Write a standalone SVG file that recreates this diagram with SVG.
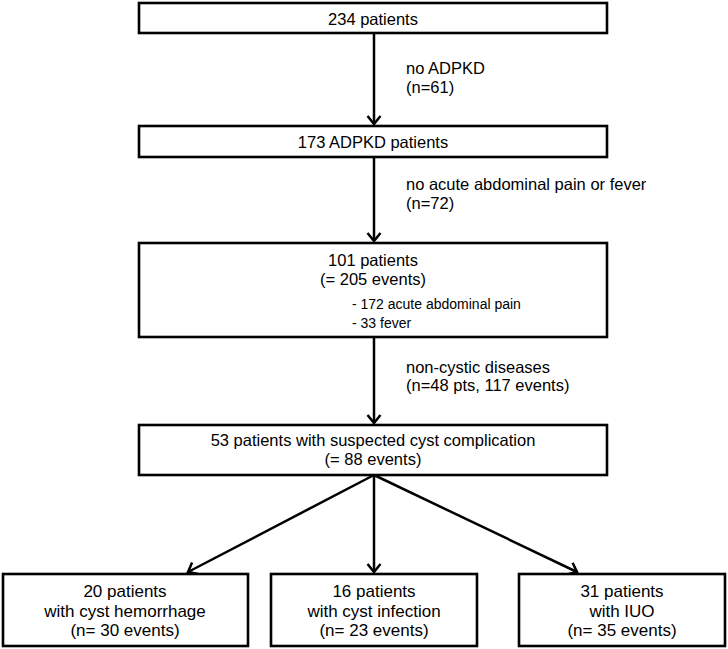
<svg xmlns="http://www.w3.org/2000/svg" width="728" height="649" viewBox="0 0 728 649">
<style>
.box{fill:#fff;stroke:#000;stroke-width:2.6}
.t{font-family:"Liberation Sans",Arial,sans-serif;font-size:16.5px;fill:#000;text-anchor:middle}
.l{font-family:"Liberation Sans",Arial,sans-serif;font-size:16.5px;fill:#000}
.s{font-family:"Liberation Sans",Arial,sans-serif;font-size:14px;fill:#000}
.b{font-family:"Liberation Sans",Arial,sans-serif;font-size:17px;fill:#000;text-anchor:middle}
.c{fill:none;stroke:#000;stroke-width:2.5}
</style>
<defs>
<marker id="ah" markerUnits="userSpaceOnUse" markerWidth="20" markerHeight="20" viewBox="-10 -10 20 20" refX="0" refY="0" orient="auto">
<path d="M-8,-6.5 L0,0 L-8,6.5" fill="none" stroke="#000" stroke-width="2.5"/>
</marker>
</defs>
<g id="connectors">
<line class="c" x1="374" y1="33" x2="374" y2="124" marker-end="url(#ah)"/>
<line class="c" x1="374" y1="157" x2="374" y2="241" marker-end="url(#ah)"/>
<line class="c" x1="374" y1="337" x2="374" y2="423" marker-end="url(#ah)"/>
<line class="c" x1="374" y1="475" x2="188" y2="572" marker-end="url(#ah)"/>
<line class="c" x1="374" y1="475" x2="374" y2="572" marker-end="url(#ah)"/>
<line class="c" x1="374" y1="475" x2="577" y2="572" marker-end="url(#ah)"/>
<text class="l" x="406" y="74">no ADPKD</text>
<text class="l" x="406" y="93">(n=61)</text>
<text class="l" x="406" y="190">no acute abdominal pain or fever</text>
<text class="l" x="406" y="209">(n=72)</text>
<text class="l" x="406" y="373">non-cystic diseases</text>
<text class="l" x="406" y="391">(n=48 pts, 117 events)</text>
</g>
<g id="n1">
<rect class="box" x="139" y="3" width="468" height="30"/>
<text class="t" x="373" y="25">234 patients</text>
</g>
<g id="n2">
<rect class="box" x="139" y="126" width="468" height="31"/>
<text class="t" x="373" y="148">173 ADPKD patients</text>
</g>
<g id="n3">
<rect class="box" x="139" y="243" width="468" height="94"/>
<text class="t" x="373" y="266">101 patients</text>
<text class="t" x="373" y="285">(= 205 events)</text>
<text class="s" x="352" y="309">- 172 acute abdominal pain</text>
<text class="s" x="352" y="328">- 33 fever</text>
</g>
<g id="n4">
<rect class="box" x="139" y="425" width="468" height="50"/>
<text class="t" x="373" y="446">53 patients with suspected cyst complication</text>
<text class="t" x="373" y="465">(= 88 events)</text>
</g>
<g id="n5">
<rect class="box" x="3" y="574" width="245" height="72"/>
<text class="b" x="125" y="597">20 patients</text>
<text class="b" x="125" y="617">with cyst hemorrhage</text>
<text class="b" x="125" y="636">(n= 30 events)</text>
</g>
<g id="n6">
<rect class="box" x="271" y="574" width="206" height="72"/>
<text class="b" x="374" y="597">16 patients</text>
<text class="b" x="374" y="617">with cyst infection</text>
<text class="b" x="374" y="636">(n= 23 events)</text>
</g>
<g id="n7">
<rect class="box" x="519" y="574" width="206" height="72"/>
<text class="b" x="622" y="597">31 patients</text>
<text class="b" x="622" y="617">with IUO</text>
<text class="b" x="622" y="636">(n= 35 events)</text>
</g>
</svg>
